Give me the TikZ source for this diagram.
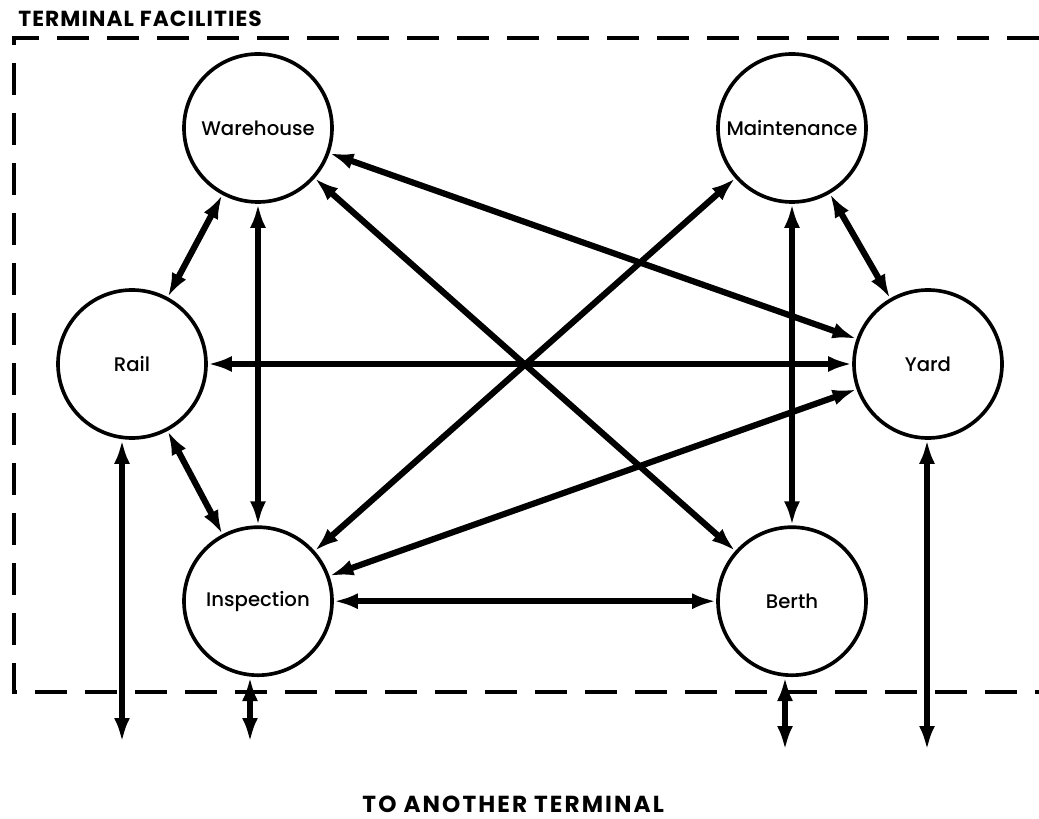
\documentclass[tikz,border=0pt]{standalone}
\usepackage{fontspec}
\setmainfont{Poppins}
\newfontfamily\labelfont{Poppins Medium}
\usetikzlibrary{arrows.meta, positioning}
\tikzset{%
  facility/.style = {draw, circle, line width=2.6pt, minimum size=3.7cm,
    inner sep=0pt, font=\labelfont\fontsize{14}{16}\selectfont},
  frame/.style    = {line width=2.6pt, dash pattern=on 0.8cm off 0.45cm},
  caption/.style  = {font=\fontsize{16.5}{18}\selectfont\bfseries\addfontfeatures{LetterSpace=9},
    inner sep=0pt}
}
\tikzstyle{arrow} = [draw, line width=4.4pt,
  {Latex[length=0.6cm,width=0.4cm]}-{Latex[length=0.6cm,width=0.4cm]}]

\begin{document}
\begin{tikzpicture}
\useasboundingbox (0,0) rectangle (25.975,-20.475);

\draw
  node [facility] (warehouse) at (6.45,-3.2) {Warehouse}
  node [facility] (maintenance) at (19.8,-3.2) {Maintenance}
  node [facility] (rail) at (3.3,-9.1) {Rail}
  node [facility] (yard) at (23.2,-9.1) {Yard}
  node [facility] (inspection) at (6.45,-15.03) {Inspection}
  node [facility] (berth) at (19.8,-15.03) {Berth}
;

  \coordinate (tl) at (0.35,-0.95);
  \coordinate (tr) at (25.975,-0.95);
  \coordinate (bl) at (0.35,-17.3);
  \coordinate (br) at (25.975,-17.3);
  \draw [frame] (tr) -- (tl) -- (bl) -- (br);

  \node [caption, font=\fontsize{15.5}{18}\selectfont\bfseries\addfontfeatures{LetterSpace=5},
    anchor=base west] (title) at ([xshift=0.1cm,yshift=0.275cm]tl) {TERMINAL FACILITIES};
  \node [caption, anchor=base] (dest) at (12.83,-20.3) {TO ANOTHER TERMINAL};

  \coordinate (rail_out) at (3.05,-18.55);
  \coordinate (insp_out) at (6.25,-18.55);
  \coordinate (berth_out) at (19.625,-18.75);
  \coordinate (yard_out) at (23.175,-18.75);

  \draw [arrow] (warehouse) -- (rail);
  \draw [arrow] (warehouse) -- (inspection);
  \draw [arrow] (warehouse) -- (berth);
  \draw [arrow] (warehouse) -- (yard);
  \draw [arrow] (maintenance) -- (inspection);
  \draw [arrow] (maintenance) -- (berth);
  \draw [arrow] (maintenance) -- (yard);
  \draw [arrow] (rail) -- (yard);
  \draw [arrow] (rail) -- (inspection);
  \draw [arrow] (yard) -- (inspection);
  \draw [arrow] (inspection) -- (berth);

  \draw [arrow] (rail.south -| rail_out) -- (rail_out);
  \draw [arrow] (inspection.south -| insp_out) -- (insp_out);
  \draw [arrow] (berth.south -| berth_out) -- (berth_out);
  \draw [arrow] (yard.south -| yard_out) -- (yard_out);

\end{tikzpicture}
\end{document}
